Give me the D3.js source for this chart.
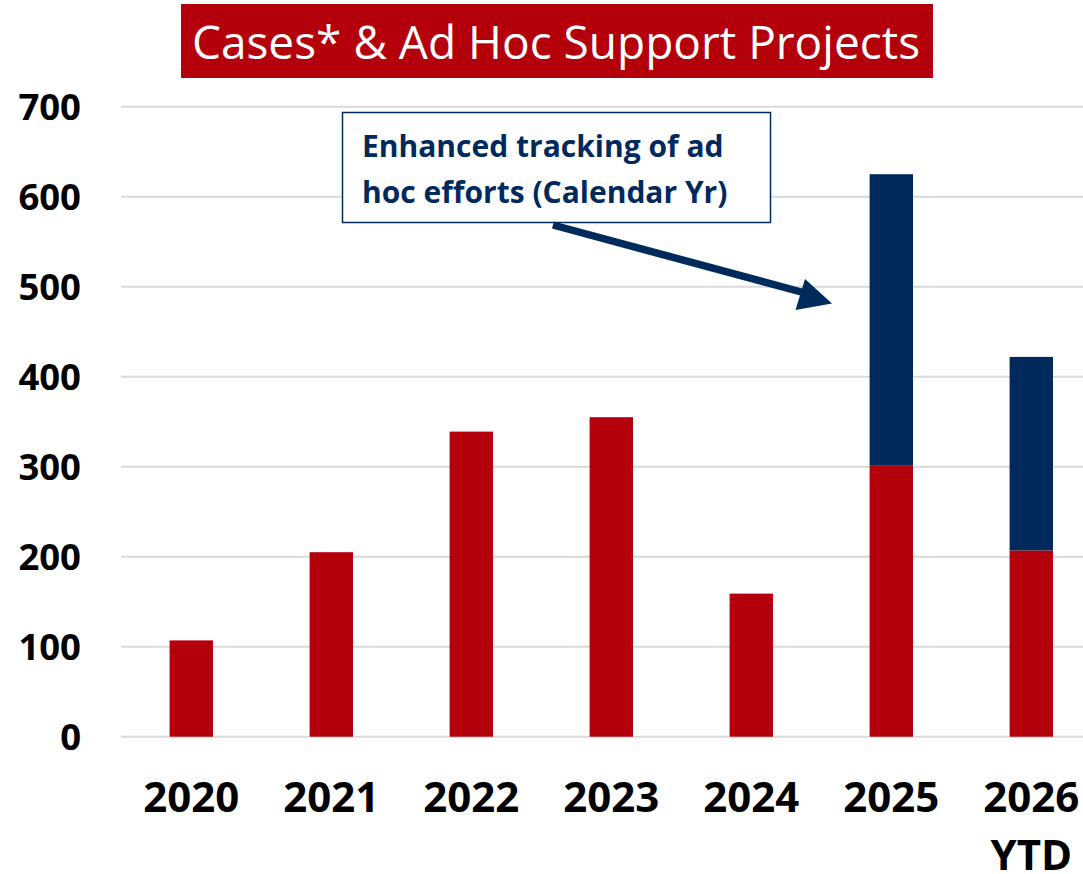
<!DOCTYPE html>
<html>
<head>
<meta charset="utf-8">
<script src="https://cdn.jsdelivr.net/npm/d3@7"></script>
<style>
  body { margin: 0; background: #fff; }
  svg { display: block; font-family: "Open Sans", sans-serif; }
</style>
</head>
<body>
<div class="chart"></div>
<script>
const color_cases = "#b3000a";
const color_adhoc = "#002a5c";
const color_grid = "#d9d9d9";

// data
const years = ["2020", "2021", "2022", "2023", "2024", "2025", "2026"];
const xTickLabels = [["2020"], ["2021"], ["2022"], ["2023"], ["2024"], ["2025"], ["2026", "YTD"]];
const casesValues = [107, 205, 339, 355, 159, 301, 207];
const adHocValues = [0, 0, 0, 0, 0, 324, 215];
const yTicks = [0, 100, 200, 300, 400, 500, 600, 700];

const chartTitle = "Cases* & Ad Hoc Support Projects";
const noteLines = ["Enhanced tracking of ad", "hoc efforts (Calendar Yr)"];

var w = 1083;
var h = 874;

var svg = d3.select(".chart")
    .append("svg")
    .attr("width", w)
    .attr("height", h);

var xScale = d3.scaleBand() // one band per year
    .domain(years)
    .range([121.3, 1101.3])
    .paddingInner(0.69)
    .paddingOuter(0.345);

var yScale = d3.scaleLinear()
    .domain([0, 700])
    .range([736.7, 106.7]);

// gridlines
svg.append("g")
    .selectAll("line")
    .data(yTicks)
    .enter()
    .append("line")
    .attr("x1", 121)
    .attr("x2", w)
    .attr("y1", d => yScale(d))
    .attr("y2", d => yScale(d))
    .attr("stroke", color_grid)
    .attr("stroke-width", 2);

// y axis labels
var yAxis = d3.axisLeft(yScale).tickValues(yTicks).tickSize(0).tickPadding(0);
svg.append("g")
    .attr("transform", "translate(81,0)")
    .call(yAxis)
    .call(g => g.select(".domain").remove())
    .selectAll("text")
    .attr("font-family", "Open Sans, sans-serif")
    .attr("font-size", 36.5)
    .attr("font-weight", 700)
    .attr("fill", "#000")
    .attr("dy", "0.36em");

// stacked bars
var table = years.map((y, i) => ({ year: y, cases: casesValues[i], adhoc: adHocValues[i] }));
var stacked = d3.stack().keys(["cases", "adhoc"])(table);
var colors = { cases: color_cases, adhoc: color_adhoc };

svg.append("g")
    .selectAll("g")
    .data(stacked)
    .enter()
    .append("g")
    .attr("fill", d => colors[d.key])
    .selectAll("rect")
    .data(d => d.filter(p => p[1] > p[0]))
    .enter()
    .append("rect")
    .attr("x", d => xScale(d.data.year))
    .attr("y", d => yScale(d[1]))
    .attr("width", xScale.bandwidth())
    .attr("height", d => yScale(d[0]) - yScale(d[1]));

// x axis labels (2026 has a second line)
var xAxis = d3.axisBottom(xScale).tickSize(0).tickFormat("");
var xg = svg.append("g")
    .attr("transform", `translate(0,${yScale(0)})`)
    .call(xAxis)
    .call(g => g.select(".domain").remove());
xg.selectAll(".tick text").remove();
xg.selectAll(".tick")
    .append("text")
    .attr("text-anchor", "middle")
    .attr("font-family", "Open Sans, sans-serif")
    .attr("font-size", 42)
    .attr("font-weight", 700)
    .attr("fill", "#000")
    .each(function(d, i) {
        d3.select(this).selectAll("tspan")
            .data(xTickLabels[i])
            .enter()
            .append("tspan")
            .attr("x", 0)
            .attr("y", (t, j) => 75 + j * 58)
            .text(t => t);
    });

// title box
svg.append("rect")
    .attr("x", 181)
    .attr("y", 4)
    .attr("width", 752)
    .attr("height", 74)
    .attr("fill", color_cases);
svg.append("text")
    .attr("x", 556)
    .attr("y", 59)
    .attr("text-anchor", "middle")
    .attr("font-size", 46)
    .attr("fill", "#fff")
    .text(chartTitle);

// annotation box
svg.append("rect")
    .attr("x", 342.5)
    .attr("y", 112.5)
    .attr("width", 428)
    .attr("height", 110)
    .attr("fill", "#fff")
    .attr("stroke", color_adhoc)
    .attr("stroke-width", 1.5);
svg.append("text")
    .attr("font-size", 30)
    .attr("font-weight", 700)
    .attr("fill", color_adhoc)
    .selectAll("tspan")
    .data(noteLines)
    .enter()
    .append("tspan")
    .attr("x", 362)
    .attr("y", (d, i) => 157 + i * 46)
    .text(d => d);

// arrow pointing at the 2025 bar
var head = [[805, 279], [832, 303.5], [795.5, 310]];
svg.append("line")
    .attr("x1", 553)
    .attr("y1", 225)
    .attr("x2", 805)
    .attr("y2", 293)
    .attr("stroke", color_adhoc)
    .attr("stroke-width", 7.5);
svg.append("path")
    .attr("d", d3.line()(head) + "Z")
    .attr("fill", color_adhoc);
</script>
</body>
</html>
